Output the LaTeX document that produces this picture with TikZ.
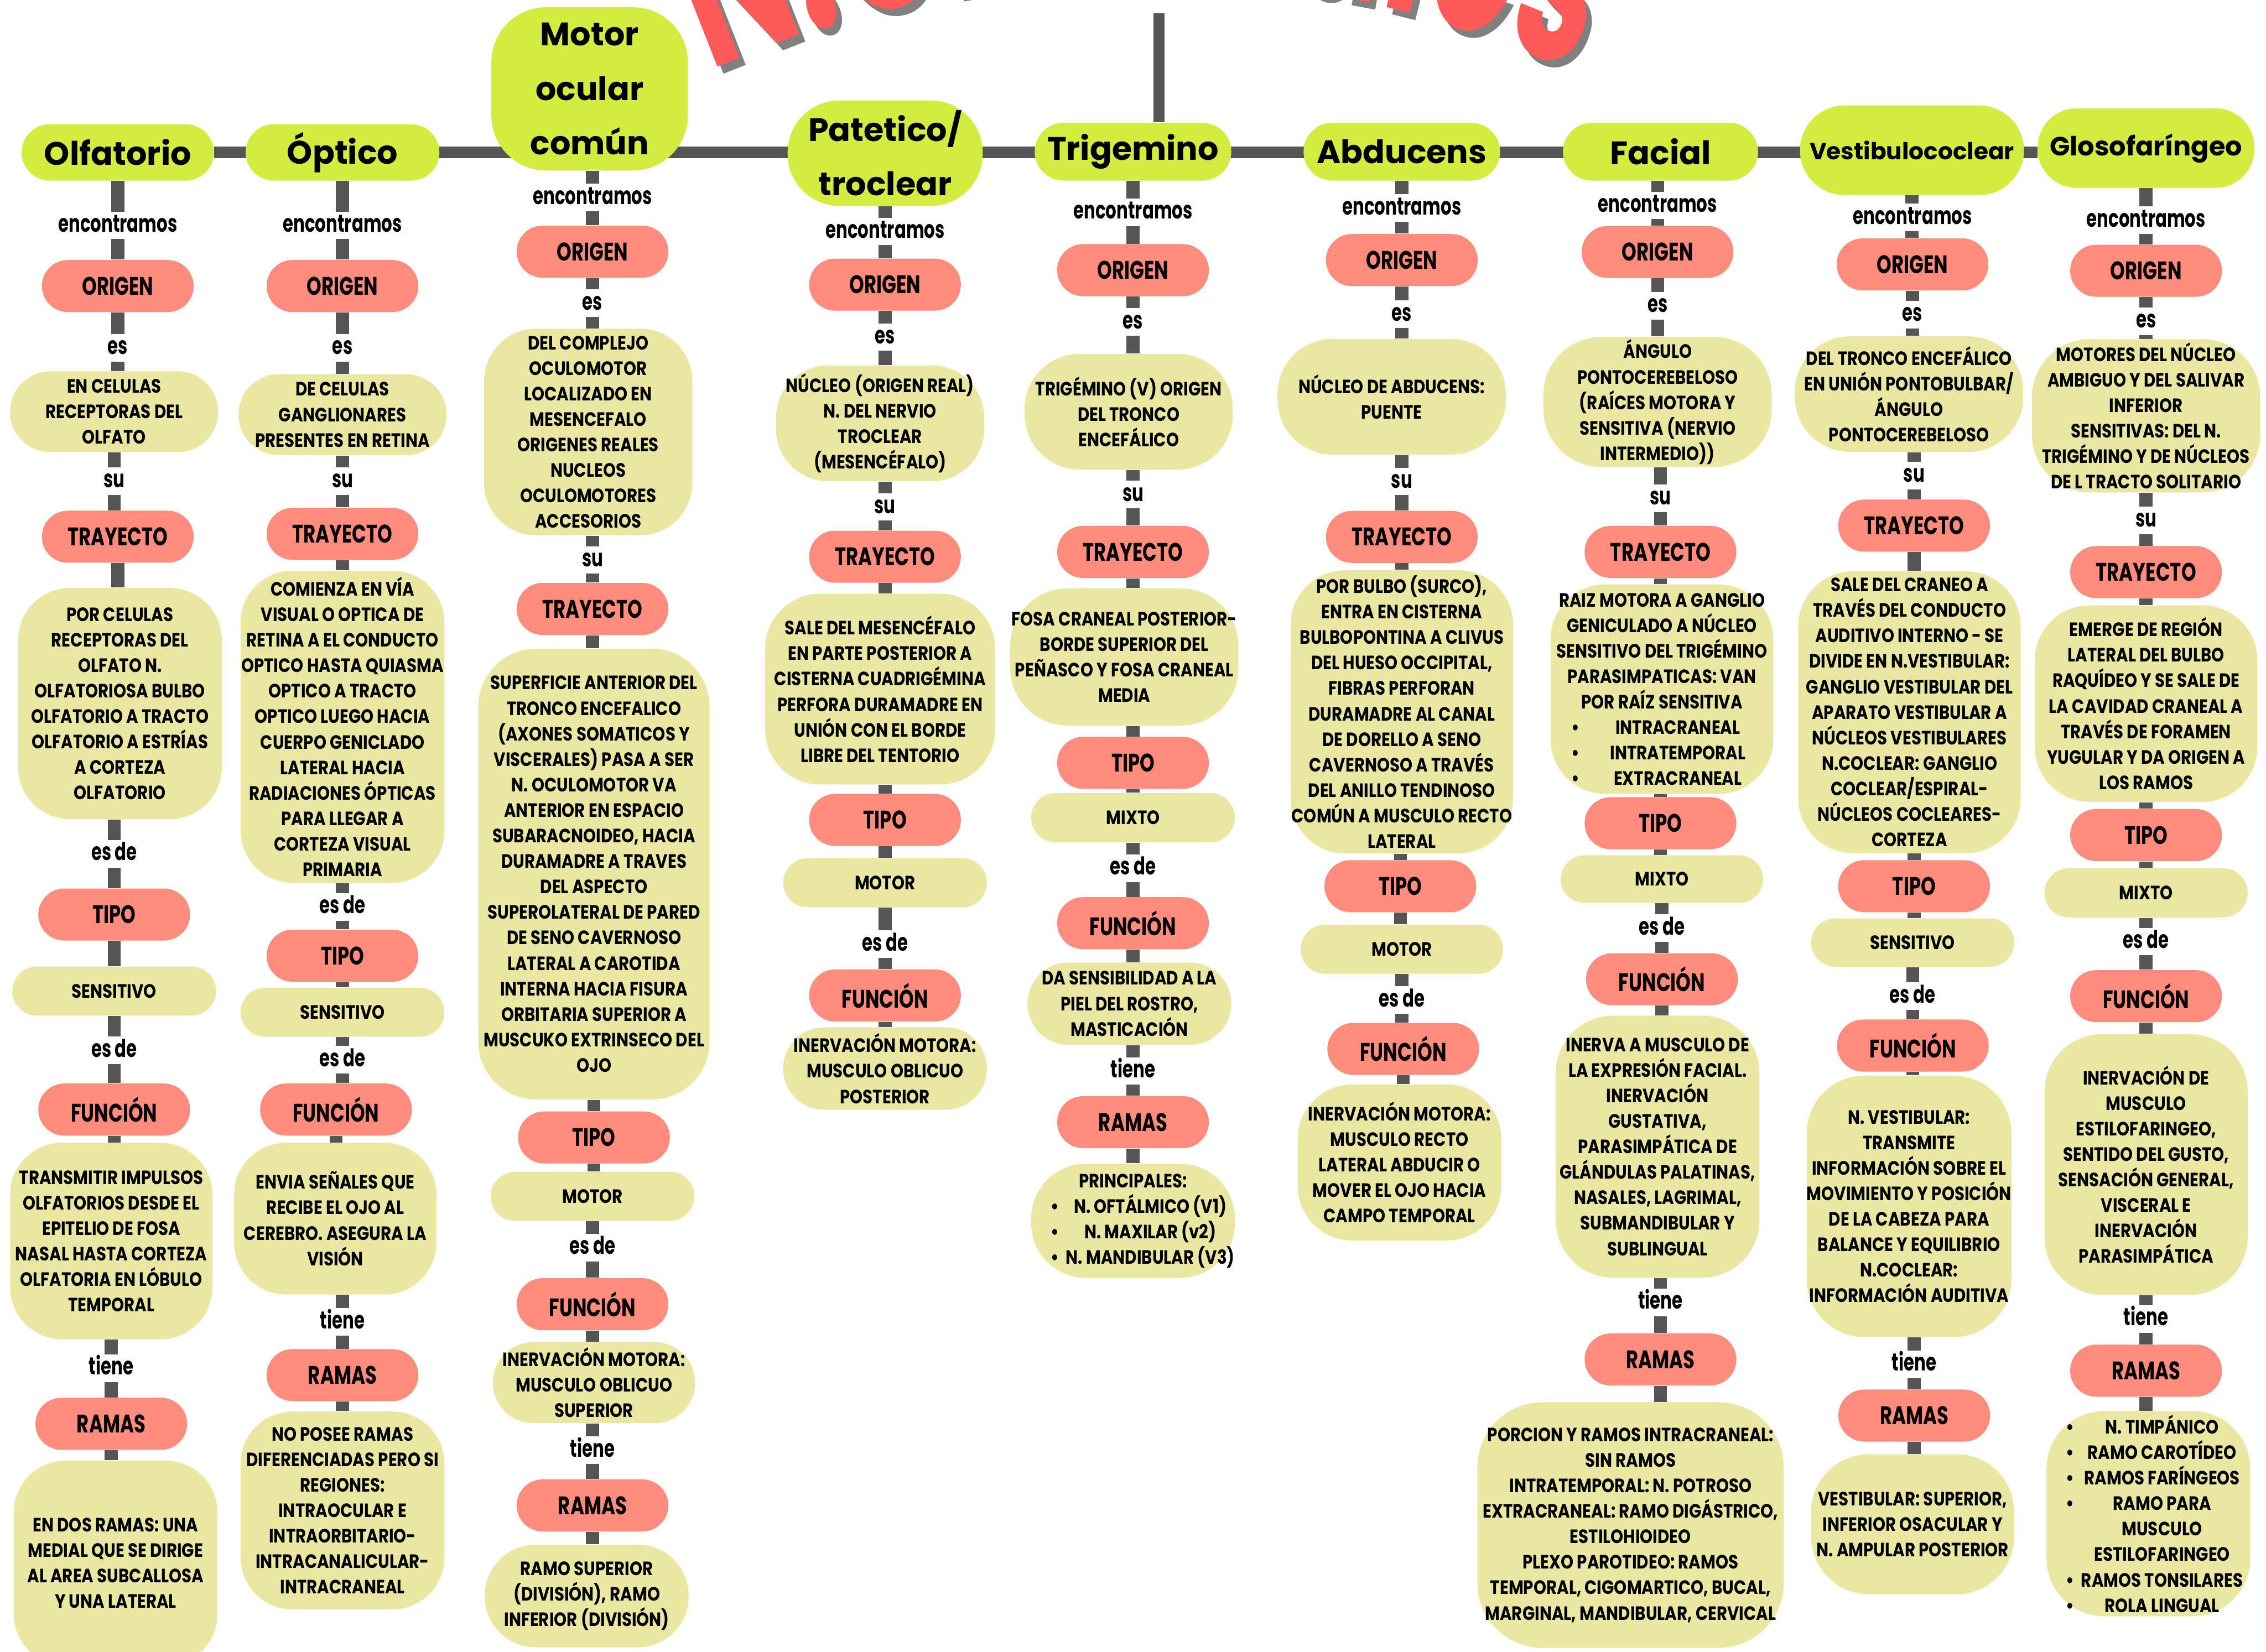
\documentclass[tikz,border=0pt]{standalone}
\usepackage{fontspec}
\setmainfont{Poppins}
\newfontfamily\nf{Poppins}[FakeStretch=0.74]
\newfontfamily\cf{Poppins}[FakeStretch=0.84]
\newfontfamily\lf{Poppins}[FakeStretch=0.70]
\newfontfamily\hf{Poppins}[FakeStretch=0.60]
\newfontfamily\tf{Poppins}
\usetikzlibrary{backgrounds,decorations.text}
\definecolor{limeT}{HTML}{D4EB3F}
\definecolor{pinkB}{HTML}{FF8C7D}
\definecolor{yelC}{HTML}{EAE7A3}
\definecolor{grayC}{HTML}{555555}
\definecolor{redT}{HTML}{FF5A5A}
\definecolor{shadowT}{HTML}{808080}
\newlength\pxu
\setlength\pxu{0.025cm}
\newcommand\TB[7]{\node[tbox, minimum width=#4*0.025cm, minimum height=#5*0.025cm, rounded corners=#6*0.025cm] (#1) at (#2,#3) {#7};}
\newcommand\CB[7]{\node[cbox, minimum width=#4*0.025cm, minimum height=#5*0.025cm, rounded corners=#6*0.025cm] (#1) at (#2,#3) {#7};}
\newcommand\PB[4]{\node[pbox] (#1) at (#2,#3) {#4};}
\newcommand\LB[4]{\node[lbl] (#1) at (#2,#3) {#4};}
\newcommand\CN[2]{\draw[conn] (#1.south) -- (#1.south |- #2.north);}
\newcommand\CNb[2]{\draw[conn] (#2.north |- #1.south) -- (#2.north);}
\newcommand\bl[3]{\makebox[#1\pxu][l]{\textbullet}\makebox[#2\pxu][c]{#3}}
\newcommand\nb[3]{\makebox[#1\pxu][l]{}\makebox[#2\pxu][c]{#3}}
\tikzset{
  conn/.style={draw=grayC, line width=9*0.025cm},
  hline/.style={draw=grayC, line width=8*0.025cm},
  tbox/.style={fill=limeT, align=center, inner sep=0pt, font=\tf\bfseries\fontsize{16}{26.7}\selectfont},
  pbox/.style={fill=pinkB, minimum width=105*0.025cm, minimum height=36*0.025cm, rounded corners=18*0.025cm, inner sep=0pt, font=\nf\bfseries\fontsize{12.5}{14}\selectfont},
  cbox/.style={fill=yelC, align=center, inner sep=0pt, font=\cf\bfseries\fontsize{9.5}{12.55}\selectfont},
  lbl/.style={fill=white, inner xsep=2pt, inner ysep=3pt, text height=7pt, text depth=0.5pt, font=\lf\bfseries\fontsize{12}{14}\selectfont},
}
\begin{document}
\begin{tikzpicture}[x=0.025cm, y=-0.025cm]
\useasboundingbox (0,0) rectangle (1568,1143.33);
\clip (0,0) rectangle (1568,1143.33);
\begin{pgfonlayer}{background}
\fill[white] (0,0) rectangle (1568,1143.33);
\end{pgfonlayer}

% big title (mostly outside the page)
\path[decorate, decoration={text along path, text align=center, text color=shadowT,
  text={|\hf\bfseries\fontsize{115}{120}\selectfont|N.Craneales}}]
  (453.6,74.9) arc[start angle=-118, end angle=-62, radius=725];
\path[decorate, decoration={text along path, text align=center, text color=redT,
  text={|\hf\bfseries\fontsize{115}{120}\selectfont|N.Craneales}}]
  (449.6,69.9) arc[start angle=-118, end angle=-62, radius=725];

% ---------------- titles
\TB{olf}{81.5}{105.5}{133}{39}{19.5}{Olfatorio}
\TB{opt}{237}{105.5}{134}{39}{19.5}{Óptico}
\TB{mot}{408}{61.5}{136}{113}{38}{Motor\\ocular\\común}
\TB{pat}{612.5}{106}{135}{73}{36}{Patetico/\\troclear}
\TB{tri}{784}{105}{136}{40}{20}{Trigemino}
\TB{abd}{970}{105}{136}{40}{20}{Abducens}
\TB{fac}{1149}{105}{135}{40}{20}{Facial}
\TB{ves}{1323}{104}{155}{62}{31}{{\fontsize{11.5}{14}\selectfont Vestibulococlear}}
\TB{glo}{1485}{102.5}{150}{55}{27}{{\fontsize{13}{15}\selectfont Glosofaríngeo}}
\coordinate (vtop) at (802,9);

% ---------------- Olfatorio
\LB{olfa}{81.5}{156}{encontramos}
\PB{olfO}{81.5}{198}{ORIGEN}
\LB{olfb}{81.5}{240.7}{es}
\CB{olf1}{79}{285}{144}{56}{28}{EN CELULAS\\RECEPTORAS DEL\\OLFATO}
\LB{olfc}{79}{333}{su}
\PB{olfT}{81.5}{371.5}{TRAYECTO}
\CB{olf2}{83}{487}{141}{160}{36}{POR CELULAS\\RECEPTORAS DEL\\OLFATO N.\\OLFATORIOSA BULBO\\OLFATORIO A TRACTO\\OLFATORIO A ESTRÍAS\\A CORTEZA\\OLFATORIO}
\LB{olfd}{79}{591}{es de}
\PB{olfTi}{79}{633}{TIPO}
\CB{olf3}{79}{686}{141}{34}{17}{SENSITIVO}
\LB{olfe}{79}{727}{es de}
\PB{olfF}{79}{768}{FUNCIÓN}
\CB{olf4}{77}{859}{140}{136}{36}{TRANSMITIR IMPULSOS\\OLFATORIOS DESDE EL\\EPITELIO DE FOSA\\NASAL HASTA CORTEZA\\OLFATORIA EN LÓBULO\\TEMPORAL}
\LB{olff}{77}{947}{tiene}
\PB{olfR}{77}{985.5}{RAMAS}
\CB{olf5}{80}{1082}{141}{142}{36}{EN DOS RAMAS: UNA\\MEDIAL QUE SE DIRIGE\\AL AREA SUBCALLOSA\\Y UNA LATERAL}

% ---------------- Optico
\LB{opta}{237}{156}{encontramos}
\PB{optO}{237}{198}{ORIGEN}
\LB{optb}{237}{240.7}{es}
\CB{opt1}{237}{287}{144}{56}{28}{DE CELULAS\\GANGLIONARES\\PRESENTES EN RETINA}
\LB{optc}{237}{333}{su}
\PB{optT}{237}{369.5}{TRAYECTO}
\CB{opt2}{237}{503}{141}{216}{36}{COMIENZA EN VÍA\\VISUAL O OPTICA DE\\RETINA A EL CONDUCTO\\OPTICO HASTA QUIASMA\\OPTICO A TRACTO\\OPTICO LUEGO HACIA\\CUERPO GENICLADO\\LATERAL HACIA\\RADIACIONES ÓPTICAS\\PARA LLEGAR A\\CORTEZA VISUAL\\PRIMARIA}
\LB{optd}{237}{627.7}{es de}
\PB{optTi}{237}{661.5}{TIPO}
\CB{opt3}{237}{700.6}{141}{34}{17}{SENSITIVO}
\LB{opte}{237}{733.5}{es de}
\PB{optF}{232.5}{768}{FUNCIÓN}
\CB{opt4}{232}{843.5}{140}{105}{36}{ENVIA SEÑALES QUE\\RECIBE EL OJO AL\\CEREBRO. ASEGURA LA\\VISIÓN}
\LB{optf}{237}{915}{tiene}
\PB{optR}{237}{951.8}{RAMAS}
\CB{opt5}{237}{1045.5}{141}{137}{36}{NO POSEE RAMAS\\DIFERENCIADAS PERO SI\\REGIONES:\\INTRAOCULAR E\\INTRAORBITARIO-\\INTRACANALICULAR-\\INTRACRANEAL}

% ---------------- Motor ocular comun
\LB{mota}{410}{136.7}{encontramos}
\PB{motO}{410}{174.2}{ORIGEN}
\LB{motb}{410}{209.8}{es}
\CB{mot1}{407}{299}{144}{143}{36}{DEL COMPLEJO\\OCULOMOTOR\\LOCALIZADO EN\\MESENCEFALO\\ORIGENES REALES\\NUCLEOS\\OCULOMOTORES\\ACCESORIOS}
\LB{motc}{410}{387.6}{su}
\PB{motT}{410}{421.5}{TRAYECTO}
\CB{mot2}{411}{605}{160}{312}{40}{SUPERFICIE ANTERIOR DEL\\TRONCO ENCEFALICO\\(AXONES SOMATICOS Y\\VISCERALES) PASA A SER\\N. OCULOMOTOR VA\\ANTERIOR EN ESPACIO\\SUBARACNOIDEO, HACIA\\DURAMADRE A TRAVES\\DEL ASPECTO\\SUPEROLATERAL DE PARED\\DE SENO CAVERNOSO\\LATERAL A CAROTIDA\\INTERNA HACIA FISURA\\ORBITARIA SUPERIOR A\\MUSCUKO EXTRINSECO DEL\\OJO}
\PB{motTi}{411}{787.3}{TIPO}
\CB{mot3}{410}{828}{141}{34}{17}{MOTOR}
\LB{motd}{410}{863.6}{es de}
\PB{motF}{410}{902.7}{FUNCIÓN}
\CB{mot4}{411}{957}{140}{56}{28}{INERVACIÓN MOTORA:\\MUSCULO OBLICUO\\SUPERIOR}
\LB{mote}{410}{1003.8}{tiene}
\PB{motR}{410}{1042}{RAMAS}
\CB{mot5}{406}{1104.7}{141}{71}{35}{RAMO SUPERIOR\\(DIVISIÓN), RAMO\\INFERIOR (DIVISIÓN)}

% ---------------- Patetico / troclear
\LB{pata}{612.5}{160.2}{encontramos}
\PB{patO}{612.4}{197}{ORIGEN}
\LB{patb}{612.4}{233.3}{es}
\CB{pat1}{609}{293}{144}{80}{36}{NÚCLEO (ORIGEN REAL)\\N. DEL NERVIO\\TROCLEAR\\(MESENCÉFALO)}
\LB{patc}{612.4}{350.9}{su}
\PB{patT}{612.4}{385.3}{TRAYECTO}
\CB{pat2}{609}{477}{159}{132}{38}{SALE DEL MESENCÉFALO\\EN PARTE POSTERIOR A\\CISTERNA CUADRIGÉMINA\\PERFORA DURAMADRE EN\\UNIÓN CON EL BORDE\\LIBRE DEL TENTORIO}
\PB{patTi}{612.4}{567.5}{TIPO}
\CB{pat3}{612.4}{611}{141}{34}{17}{MOTOR}
\LB{patd}{612.4}{653.5}{es de}
\PB{patF}{612.4}{689}{FUNCIÓN}
\CB{pat4}{612.4}{739.6}{141}{57}{28.5}{INERVACIÓN MOTORA:\\MUSCULO OBLICUO\\POSTERIOR}

% ---------------- Trigemino
\LB{tria}{784}{147}{encontramos}
\PB{triO}{784}{187}{ORIGEN}
\LB{trib}{784}{222.9}{es}
\CB{tri1}{781}{285}{144}{80}{38}{TRIGÉMINO (V) ORIGEN\\DEL TRONCO\\ENCEFÁLICO}
\LB{tric}{784}{342.3}{su}
\PB{triT}{784}{382}{TRAYECTO}
\CB{tri2}{778}{454.7}{158}{95}{40}{FOSA CRANEAL POSTERIOR-\\BORDE SUPERIOR DEL\\PEÑASCO Y FOSA CRANEAL\\MEDIA}
\PB{triTi}{784}{528}{TIPO}
\CB{tri3}{784}{566}{141}{34}{17}{MIXTO}
\LB{trid}{784}{601}{es de}
\PB{triF}{784}{639}{FUNCIÓN}
\CB{tri4}{781.5}{694.7}{141}{57}{28.5}{DA SENSIBILIDAD A LA\\PIEL DEL ROSTRO,\\MASTICACIÓN}
\LB{trie}{784}{741.3}{tiene}
\PB{triR}{784}{776.7}{RAMAS}
\CB{tri5}{784}{845}{141}{79}{38}{PRINCIPALES:\\\bl{24}{90}{N. OFTÁLMICO (V1)}\\\bl{24}{90}{N. MAXILAR (v2)}\\\bl{24}{90}{N. MANDIBULAR (V3)}}

% ---------------- Abducens
\LB{abda}{970}{144}{encontramos}
\PB{abdO}{970}{180}{ORIGEN}
\LB{abdb}{970}{217.5}{es}
\CB{abd1}{963}{274.6}{158}{80}{38}{NÚCLEO DE ABDUCENS:\\PUENTE}
\LB{abdc}{970}{333.2}{su}
\PB{abdT}{970}{371.6}{TRAYECTO}
\CB{abd2}{970}{492.7}{154}{196}{38}{POR BULBO (SURCO),\\ENTRA EN CISTERNA\\BULBOPONTINA A CLIVUS\\DEL HUESO OCCIPITAL,\\FIBRAS PERFORAN\\DURAMADRE AL CANAL\\DE DORELLO A SENO\\CAVERNOSO A TRAVÉS\\DEL ANILLO TENDINOSO\\COMÚN A MUSCULO RECTO\\LATERAL}
\PB{abdTi}{969}{613.4}{TIPO}
\CB{abd3}{970}{657}{140}{34}{17}{MOTOR}
\LB{abdd}{970}{692.2}{es de}
\PB{abdF}{971}{726}{FUNCIÓN}
\CB{abd4}{968.4}{804.6}{141}{108}{38}{INERVACIÓN MOTORA:\\MUSCULO RECTO\\LATERAL ABDUCIR O\\MOVER EL OJO HACIA\\CAMPO TEMPORAL}

% ---------------- Facial
\LB{faca}{1147}{142.2}{encontramos}
\PB{facO}{1147}{174.4}{ORIGEN}
\LB{facb}{1147}{211.7}{es}
\CB{fac1}{1147}{278.2}{158}{90}{40}{ÁNGULO\\PONTOCEREBELOSO\\(RAÍCES MOTORA Y\\SENSITIVA (NERVIO\\INTERMEDIO))}
\LB{facc}{1149}{344.8}{su}
\PB{facT}{1149}{382}{TRAYECTO}
\CB{fac2}{1150}{477}{154}{145}{38}{RAIZ MOTORA A GANGLIO\\GENICULADO A NÚCLEO\\SENSITIVO DEL TRIGÉMINO\\PARASIMPATICAS: VAN\\POR RAÍZ SENSITIVA\\\bl{22}{103}{INTRACRANEAL}\\\bl{22}{103}{INTRATEMPORAL}\\\bl{22}{103}{EXTRACRANEAL}}
\PB{facTi}{1149}{569.8}{TIPO}
\CB{fac3}{1150}{608.5}{140}{33}{16.5}{MIXTO}
\LB{facd}{1150}{642.4}{es de}
\PB{facF}{1150}{677.8}{FUNCIÓN}
\CB{fac4}{1147}{793.7}{141}{181.5}{40}{INERVA A MUSCULO DE\\LA EXPRESIÓN FACIAL.\\INERVACIÓN\\GUSTATIVA,\\PARASIMPÁTICA DE\\GLÁNDULAS PALATINAS,\\NASALES, LAGRIMAL,\\SUBMANDIBULAR Y\\SUBLINGUAL}
\LB{face}{1149}{901.4}{tiene}
\PB{facR}{1149}{941}{RAMAS}
\CB{fac5}{1128.3}{1055.6}{212}{170}{45}{PORCION Y RAMOS INTRACRANEAL:\\SIN RAMOS\\INTRATEMPORAL: N. POTROSO\\EXTRACRANEAL: RAMO DIGÁSTRICO,\\ESTILOHIOIDEO\\PLEXO PAROTIDEO: RAMOS\\TEMPORAL, CIGOMARTICO, BUCAL,\\MARGINAL, MANDIBULAR, CERVICAL}

% ---------------- Vestibulococlear
\LB{vesa}{1323.4}{150.5}{encontramos}
\PB{vesO}{1323.4}{183}{ORIGEN}
\LB{vesb}{1323.4}{217.8}{es}
\CB{ves1}{1321}{272.8}{158}{80}{38}{DEL TRONCO ENCEFÁLICO\\EN UNIÓN PONTOBULBAR/\\ÁNGULO\\PONTOCEREBELOSO}
\LB{vesc}{1324.5}{329.2}{su}
\PB{vesT}{1324.5}{363.8}{TRAYECTO}
\CB{ves2}{1321.3}{493}{154}{195}{38}{SALE DEL CRANEO A\\TRAVÉS DEL CONDUCTO\\AUDITIVO INTERNO - SE\\DIVIDE EN N.VESTIBULAR:\\GANGLIO VESTIBULAR DEL\\APARATO VESTIBULAR A\\NÚCLEOS VESTIBULARES\\N.COCLEAR: GANGLIO\\COCLEAR/ESPIRAL-\\NÚCLEOS COCLEARES-\\CORTEZA}
\PB{vesTi}{1324.5}{613.4}{TIPO}
\CB{ves3}{1323.5}{652.4}{140.5}{33.5}{16.75}{SENSITIVO}
\LB{vesd}{1323.5}{689.5}{es de}
\PB{vesF}{1323.6}{723.7}{FUNCIÓN}
\CB{ves4}{1321}{835}{140.5}{181}{40}{N. VESTIBULAR:\\TRANSMITE\\INFORMACIÓN SOBRE EL\\MOVIMIENTO Y POSICIÓN\\DE LA CABEZA PARA\\BALANCE Y EQUILIBRIO\\N.COCLEAR:\\INFORMACIÓN AUDITIVA}
\LB{vese}{1324.6}{944.4}{tiene}
\PB{vesR}{1324.6}{979.8}{RAMAS}
\CB{ves5}{1323.5}{1055}{140.5}{97}{40}{VESTIBULAR: SUPERIOR,\\INFERIOR OSACULAR Y\\N. AMPULAR POSTERIOR}

% ---------------- Glosofaringeo
\LB{gloa}{1485}{152.4}{encontramos}
\PB{gloO}{1485}{187.4}{ORIGEN}
\LB{glob}{1485}{222.3}{es}
\CB{glo1}{1485}{287.8}{158}{106}{40}{MOTORES DEL NÚCLEO\\AMBIGUO Y DEL SALIVAR\\INFERIOR\\SENSITIVAS: DEL N.\\TRIGÉMINO Y DE NÚCLEOS\\DE L TRACTO SOLITARIO}
\LB{gloc}{1485}{360.2}{su}
\PB{gloT}{1485}{396}{TRAYECTO}
\CB{glo2}{1485}{487}{154}{136}{38}{EMERGE DE REGIÓN\\LATERAL DEL BULBO\\RAQUÍDEO Y SE SALE DE\\LA CAVIDAD CRANEAL A\\TRAVÉS DE FORAMEN\\YUGULAR Y DA ORIGEN A\\LOS RAMOS}
\PB{gloTi}{1485}{578}{TIPO}
\CB{glo3}{1485}{618}{140.6}{34}{17}{MIXTO}
\LB{glod}{1485}{651.7}{es de}
\PB{gloF}{1485}{689.5}{FUNCIÓN}
\CB{glo4}{1485}{806}{140.6}{180.5}{40}{INERVACIÓN DE\\MUSCULO\\ESTILOFARINGEO,\\SENTIDO DEL GUSTO,\\SENSACIÓN GENERAL,\\VISCERAL E\\INERVACIÓN\\PARASIMPÁTICA}
\LB{gloe}{1485}{913}{tiene}
\PB{gloR}{1485}{948.7}{RAMAS}
\CB{glo5}{1486.6}{1047.7}{141}{142}{40}{\bl{19}{95}{N. TIMPÁNICO}\\\bl{19}{95}{RAMO CAROTÍDEO}\\\bl{19}{95}{RAMOS FARÍNGEOS}\\\bl{19}{95}{RAMO PARA}\\\nb{19}{95}{MUSCULO}\\\nb{19}{95}{ESTILOFARINGEO}\\\bl{19}{95}{RAMOS TONSILARES}\\\bl{19}{95}{ROLA LINGUAL}}

% ---------------- connectors
\begin{pgfonlayer}{background}
\draw[hline] (olf.east) -- (olf.east -| glo.west);
\draw[hline] (vtop) -- (vtop |- tri.north);
% Olfatorio
\CN{olf}{olfO} \CN{olfO}{olf1} \CN{olf1}{olfT} \CN{olfT}{olf2} \CNb{olf2}{olfTi}
\CN{olfTi}{olf3} \CN{olf3}{olfF} \CN{olfF}{olf4} \CN{olf4}{olfR} \CN{olfR}{olf5}
% Optico
\CN{opt}{optO} \CN{optO}{opt1} \CN{opt1}{optT} \CN{optT}{opt2} \CN{opt2}{optTi}
\CN{optTi}{opt3} \CN{opt3}{optF} \CN{optF}{opt4} \CNb{opt4}{optR} \CN{optR}{opt5}
% Motor ocular
\CNb{mot}{motO} \CN{motO}{mot1} \CNb{mot1}{motT} \CN{motT}{mot2} \CN{mot2}{motTi}
\CN{motTi}{mot3} \CN{mot3}{motF} \CN{motF}{mot4} \CNb{mot4}{motR} \CN{motR}{mot5}
% Patetico
\CN{pat}{patO} \CN{patO}{pat1} \CNb{pat1}{patT} \CN{patT}{pat2} \CNb{pat2}{patTi}
\CN{patTi}{pat3} \CN{pat3}{patF} \CN{patF}{pat4}
% Trigemino
\CN{tri}{triO} \CN{triO}{tri1} \CNb{tri1}{triT} \CN{triT}{tri2} \CNb{tri2}{triTi}
\CN{triTi}{tri3} \CN{tri3}{triF} \CN{triF}{tri4} \CNb{tri4}{triR} \CN{triR}{tri5}
% Abducens
\CN{abd}{abdO} \CN{abdO}{abd1} \CNb{abd1}{abdT} \CN{abdT}{abd2} \CNb{abd2}{abdTi}
\CN{abdTi}{abd3} \CN{abd3}{abdF} \CN{abdF}{abd4}
% Facial
\CNb{fac}{facO} \CN{facO}{fac1} \CNb{fac1}{facT} \CN{facT}{fac2} \CNb{fac2}{facTi}
\CN{facTi}{fac3} \CN{fac3}{facF} \CN{facF}{fac4} \CNb{fac4}{facR} \CN{facR}{fac5}
% Vestibulococlear
\CN{ves}{vesO} \CN{vesO}{ves1} \CNb{ves1}{vesT} \CN{vesT}{ves2} \CNb{ves2}{vesTi}
\CN{vesTi}{ves3} \CN{ves3}{vesF} \CN{vesF}{ves4} \CNb{ves4}{vesR} \CN{vesR}{ves5}
% Glosofaringeo
\CN{glo}{gloO} \CN{gloO}{glo1} \CN{glo1}{gloT} \CN{gloT}{glo2} \CN{glo2}{gloTi}
\CN{gloTi}{glo3} \CN{glo3}{gloF} \CN{gloF}{glo4} \CN{glo4}{gloR} \CN{gloR}{glo5}
\end{pgfonlayer}
\end{tikzpicture}
\end{document}
